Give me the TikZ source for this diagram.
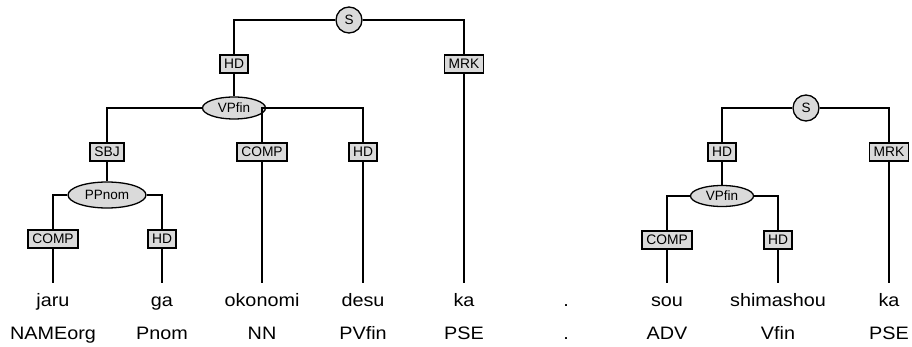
\documentclass[tikz,border=0pt]{standalone}
\usepackage{fontspec}
\setmainfont{Liberation Sans}
\newfontfamily\wordfont[FakeStretch=1.1]{Liberation Sans}
\usetikzlibrary{shapes.geometric}
\definecolor{boxgray}{RGB}{218,218,218}
\tikzset{
  lbl/.style={draw=black, fill=boxgray, line width=1.7pt, rectangle, minimum height=18.3pt,
              inner xsep=4.2pt, inner ysep=0pt, font=\fontsize{13.8}{14}\selectfont},
  cat/.style={draw=black, fill=boxgray, line width=1.3pt, ellipse, inner sep=0pt,
              font=\fontsize{13.5}{14}\selectfont},
  root/.style={draw=black, fill=boxgray, line width=1.3pt, circle, minimum size=26pt,
               inner sep=0pt, font=\fontsize{13.5}{14}\selectfont},
  word/.style={anchor=base, inner xsep=0pt, inner ysep=3pt, text height=20pt, text depth=5pt,
               font=\wordfont\fontsize{18}{20}\selectfont},
  tagword/.style={anchor=base, inner sep=0pt, font=\wordfont\fontsize{18}{20}\selectfont},
  edge/.style={line width=1.3pt, black}
}
\begin{document}
\begin{tikzpicture}[x=1pt, y=-1pt]
\useasboundingbox (0,0) rectangle (912,347);
% words
\node[word] (w1) at (53,306) {jaru};
\node[word] (w2) at (162,306) {ga};
\node[word] (w3) at (262,306) {okonomi};
\node[word] (w4) at (363,306) {desu};
\node[word] (w5) at (464,306) {ka};
\node[word] (w6) at (566,306) {.};
\node[word] (w7) at (667,306) {sou};
\node[word] (w8) at (778,306) {shimashou};
\node[word] (w9) at (889,306) {ka};
% POS
\node[tagword] (p1) at (53,339) {NAMEorg};
\node[tagword] (p2) at (162,339) {Pnom};
\node[tagword] (p3) at (262,339) {NN};
\node[tagword] (p4) at (363,339) {PVfin};
\node[tagword] (p5) at (464,339) {PSE};
\node[tagword] (p6) at (566,339) {.};
\node[tagword] (p7) at (667,339) {ADV};
\node[tagword] (p8) at (778,339) {Vfin};
\node[tagword] (p9) at (889,339) {PSE};
% left tree nodes
\node[root] (s1) at (349,20) {S};
\node[lbl] (hd1) at (234,64) {HD};
\node[lbl] (mrk1) at (464,64) {MRK};
\node[cat, minimum width=63pt, minimum height=22pt] (vp1) at (234,108) {VPfin};
\node[lbl] (sbj) at (107,152) {SBJ};
\node[lbl] (comp2) at (262,152) {COMP};
\node[lbl] (hd2) at (363,152) {HD};
\node[cat, minimum width=78pt, minimum height=26pt] (pp) at (107,195) {PPnom};
\node[lbl] (comp1) at (53,239) {COMP};
\node[lbl] (hd3) at (162,239) {HD};
% right tree nodes
\node[root] (s2) at (806,108) {S};
\node[lbl] (hd4) at (722,152) {HD};
\node[lbl] (mrk2) at (889,152) {MRK};
\node[cat, minimum width=63pt, minimum height=21pt] (vp2) at (722,196) {VPfin};
\node[lbl] (comp3) at (667,240) {COMP};
\node[lbl] (hd5) at (778,240) {HD};
% edges
\draw[edge] (s1) -| (hd1);
\draw[edge] (s1) -| (mrk1);
\draw[edge] (hd1) -- (vp1);
\draw[edge] (mrk1) -- (w5);
\draw[edge] (vp1) -| (sbj);
\draw[edge] (vp1) -| (comp2);
\draw[edge] (vp1) -| (hd2);
\draw[edge] (sbj) -- (pp);
\draw[edge] (comp2) -- (w3);
\draw[edge] (hd2) -- (w4);
\draw[edge] (pp) -| (comp1);
\draw[edge] (pp) -| (hd3);
\draw[edge] (comp1) -- (w1);
\draw[edge] (hd3) -- (w2);
\draw[edge] (s2) -| (hd4);
\draw[edge] (s2) -| (mrk2);
\draw[edge] (hd4) -- (vp2);
\draw[edge] (mrk2) -- (w9);
\draw[edge] (vp2) -| (comp3);
\draw[edge] (vp2) -| (hd5);
\draw[edge] (comp3) -- (w7);
\draw[edge] (hd5) -- (w8);
\end{tikzpicture}
\end{document}
